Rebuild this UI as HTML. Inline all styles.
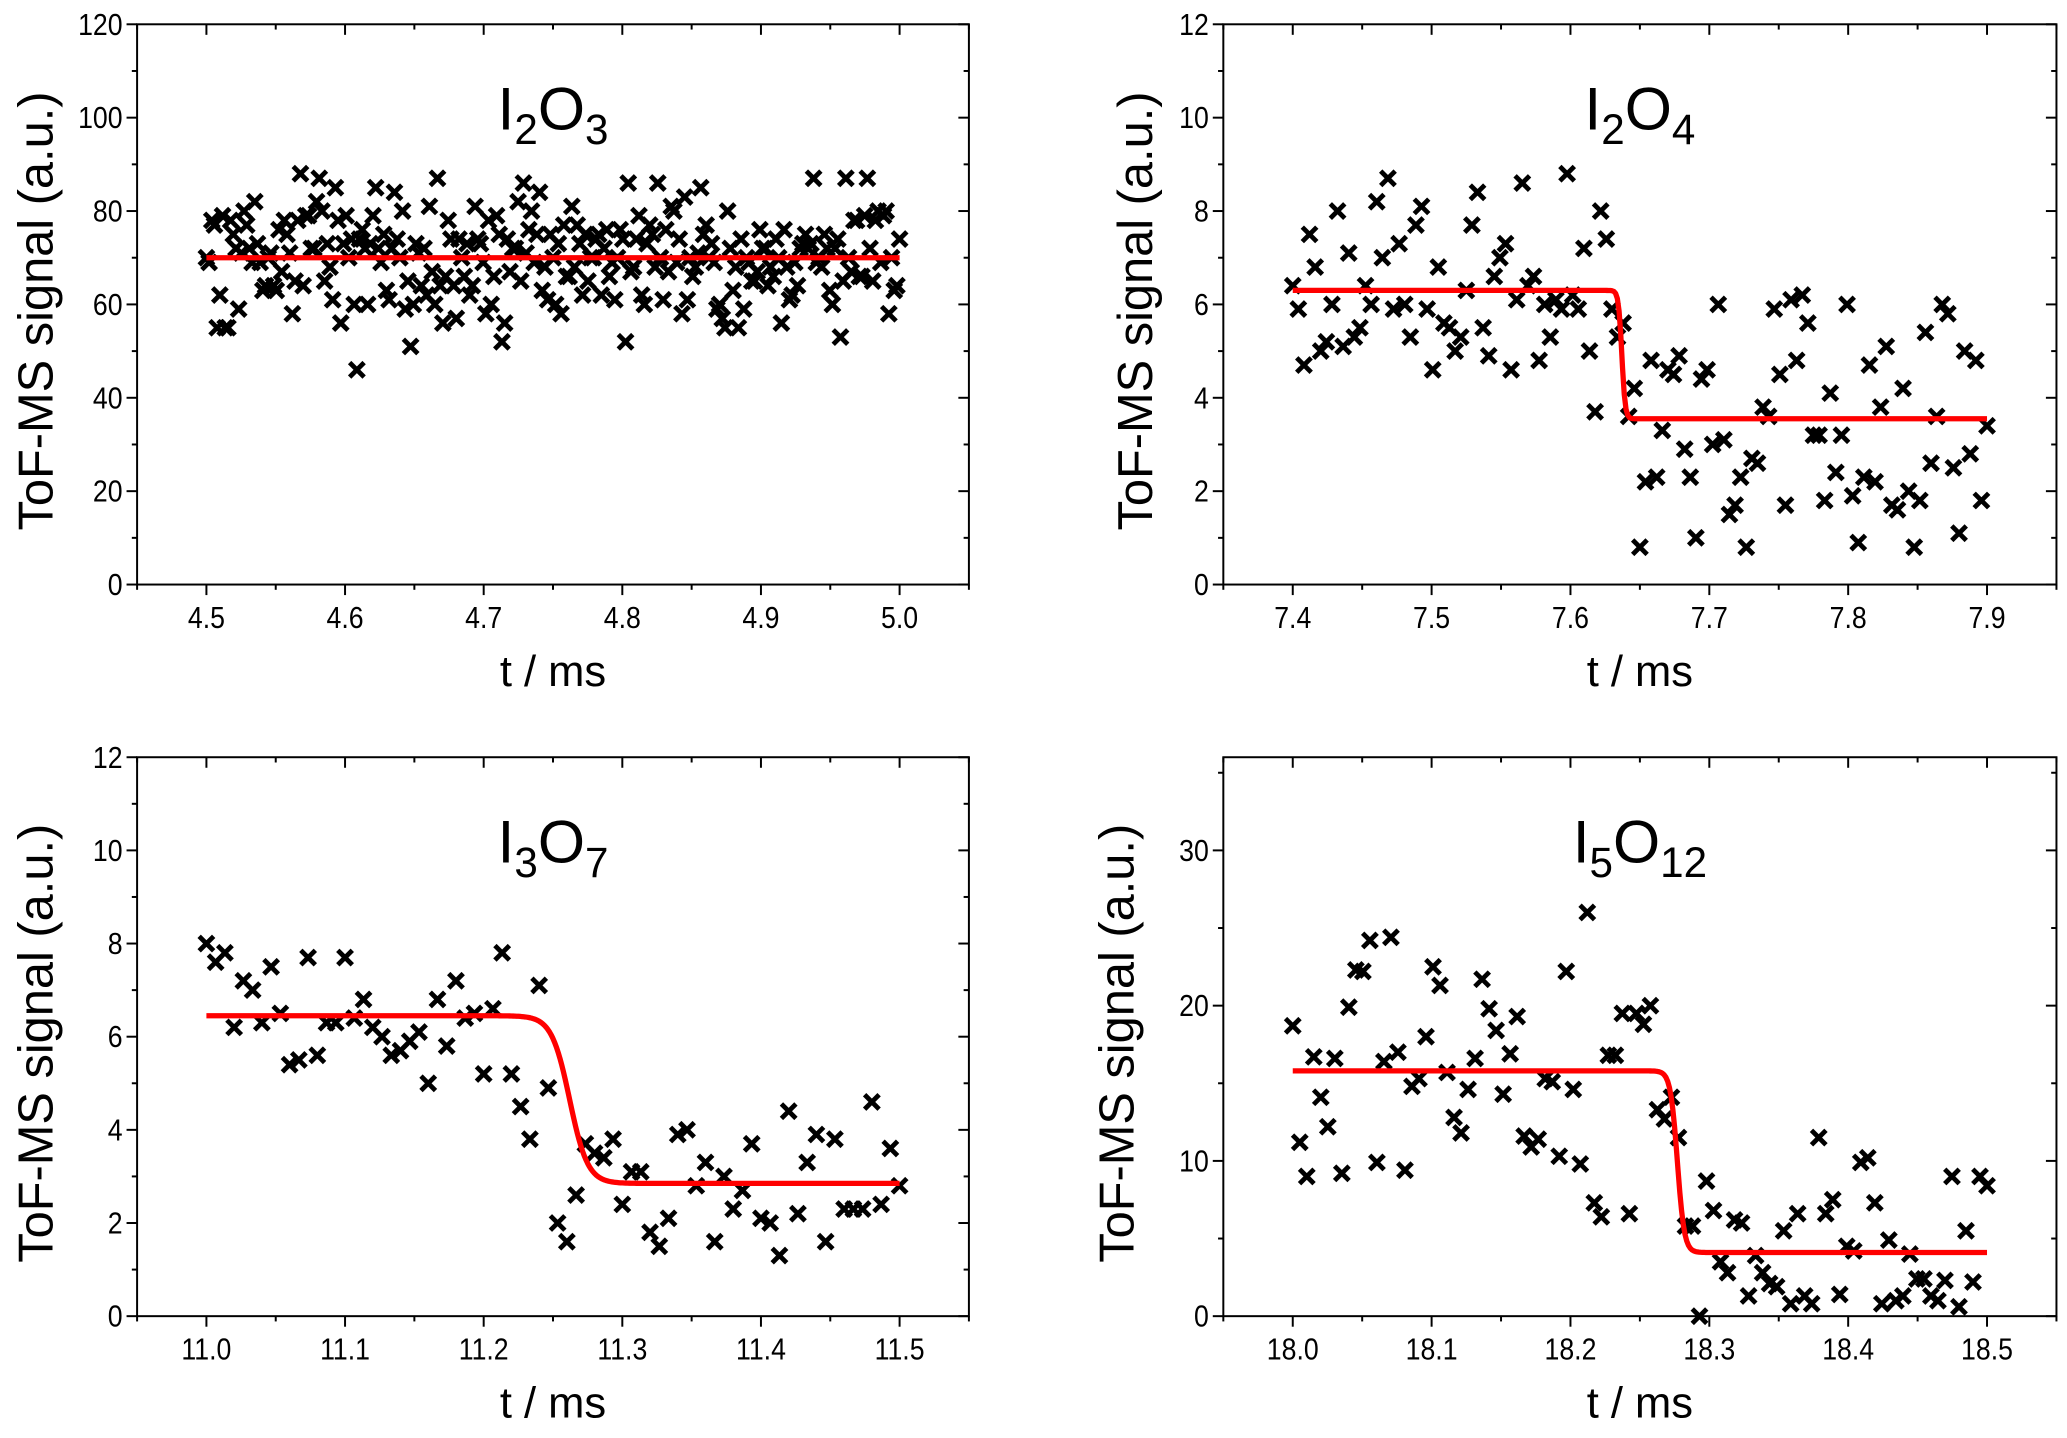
<!DOCTYPE html>
<html><head><meta charset="utf-8"><style>
html,body{margin:0;padding:0;background:#fff}
svg{display:block}
text{font-family:"Liberation Sans",Arial,sans-serif;fill:#000}
</style></head><body>
<svg id="fig" xmlns="http://www.w3.org/2000/svg" width="2067" height="1438" viewBox="0 0 1568 1090"></svg>
<script>
// ---- data ----
const p1Values=[70,78,55,79,55,75,59,80,72,82,69,64,71,63,67,75,58,78,64,79,72,87,65,68,85,56,79,74,46,76,60,79,72,75,61,84,70,59,51,73,64,62,67,87,56,78,64,74,66,62,81,73,58,60,79,52,74,72,82,86,76,69,84,68,75,60,58,66,81,77,62,65,70,75,72,66,61,76,52,67,74,62,73,75,86,61,67,80,74,83,70,68,85,77,73,59,57,80,63,55,59,69,65,76,72,68,74,56,68,62,64,73,72,87,70,75,63,72,53,87,67,78,66,87,65,80,79,58,63,74];
const p1ValuesB=[69,77,62,55,78,72,71,77,69,73,63,70,64,76,78,71,65,88,79,72,82,80,73,61,78,73,70,60,74,72,73,85,69,63,72,74,80,65,60,71,72,81,60,64,66,74,57,70,73,64,74,69,78,66,75,56,67,72,65,71,80,75,63,61,70,73,77,66,68,73,75,70,74,62,76,69,70,74,86,68,79,60,77,68,70,76,81,69,58,61,66,71,75,70,69,60,55,72,68,74,70,65,67,72,64,66,70,76,61,69,72,75,73,69,68,72,60,74,65,70,78,66,79,72,78,69,80,70,64,73];
const p2Values=[6.4,5.9,4.7,7.5,6.8,5.0,5.2,6.0,8.0,5.1,7.1,5.3,5.5,6.4,6.0,8.2,7.0,8.7,5.9,7.3,6.0,5.3,7.7,8.1,5.9,4.6,6.8,5.6,5.5,5.0,5.3,6.3,7.7,8.4,5.5,4.9,6.6,7.0,7.3,4.6,6.1,8.6,6.4,6.6,4.8,6.0,5.3,6.1,5.9,8.8,6.2,5.9,7.2,5.0,3.7,8.0,7.4,5.9,5.3,5.6,3.6,4.2,0.8,2.2,4.8,2.3,3.3,4.6,4.5,4.9,2.9,2.3,1.0,4.4,4.6,3.0,6.0,3.1,1.5,1.7,2.3,0.8,2.7,2.6,3.8,3.6,5.9,4.5,1.7,6.1,4.8,6.2,5.6,3.2,3.2,1.8,4.1,2.4,3.2,6.0,1.9,0.9,2.3,4.7,2.2,3.8,5.1,1.7,1.6,4.2,2.0,0.8,1.8,5.4,2.6,3.6,6.0,5.8,2.5,1.1,5.0,2.8,4.8,1.8,3.4];
const p3Values=[8.0,7.6,7.8,6.2,7.2,7.0,6.3,7.5,6.5,5.4,5.5,7.7,5.6,6.3,6.3,7.7,6.4,6.8,6.2,6.0,5.6,5.7,5.9,6.1,5.0,6.8,5.8,7.2,6.4,6.5,5.2,6.6,7.8,5.2,4.5,3.8,7.1,4.9,2.0,1.6,2.6,3.7,3.5,3.4,3.8,2.4,3.1,3.1,1.8,1.5,2.1,3.9,4.0,2.8,3.3,1.6,3.0,2.3,2.7,3.7,2.1,2.0,1.3,4.4,2.2,3.3,3.9,1.6,3.8,2.3,2.3,2.3,4.6,2.4,3.6,2.8];
const p4Values=[18.7,11.2,9.0,16.7,14.1,12.2,16.6,9.2,19.9,22.3,22.2,24.2,9.9,16.4,24.4,17.0,9.4,14.8,15.3,18.0,22.5,21.3,15.7,12.8,11.8,14.6,16.6,21.7,19.8,18.4,14.3,16.9,19.3,11.6,10.9,11.4,15.3,15.1,10.3,22.2,14.6,9.8,26.0,7.3,6.4,16.8,16.8,19.5,6.6,19.5,18.8,20.0,13.3,12.7,14.1,11.5,5.8,5.8,0.0,8.7,6.8,3.5,2.8,6.2,6.0,1.3,3.9,2.8,2.1,1.9,5.5,0.8,6.6,1.3,0.8,11.5,6.6,7.5,1.4,4.5,4.2,9.9,10.2,7.3,0.8,4.9,1.0,1.3,4.0,2.4,2.4,1.3,1.0,2.3,9.0,0.6,5.5,2.2,9.0,8.4];
const p1XTicks=["4.5","4.6","4.7","4.8","4.9","5.0"];
const p2XTicks=["7.4","7.5","7.6","7.7","7.8","7.9"];
const p3XTicks=["11.0","11.1","11.2","11.3","11.4","11.5"];
const p4XTicks=["18.0","18.1","18.2","18.3","18.4","18.5"];
const p1YTicks=[0,20,40,60,80,100,120];
const p234YTicks=[0,2,4,6,8,10,12];
const p4YTicks=[0,10,20,30];
const fitLevels1=[70,70];
const fitLevels2=[6.3,3.55];
const fitLevels3=[6.45,2.85];
const fitLevels4=[15.8,4.1];
const fitCenters=[4.75,7.637,11.262,18.277];
const fitWidths=[0.01,0.0012,0.0065,0.0025];
const tStarts=[4.5,7.4,11.0,18.0];
const tEnds=[5.0,7.9,11.5,18.5];

const NS="http://www.w3.org/2000/svg";
const svg=document.getElementById('fig');
function mk(tag,attrs,parent){const e=document.createElementNS(NS,tag);for(const k in attrs)e.setAttribute(k,attrs[k]);(parent||svg).appendChild(e);return e;}

function panel(cfg){
  const g=mk('g',{});
  
  
  const L=cfg.L,R=cfg.R,T=cfg.T,B=cfg.B;
  const xs=v=>L+(v-cfg.xmin)/(cfg.xmax-cfg.xmin)*(R-L);
  const ys=v=>B-(v-cfg.ymin)/(cfg.ymax-cfg.ymin)*(B-T);
  let d='';
  const N=400;
  for(let i=0;i<=N;i++){const t=cfg.t0+(cfg.t1-cfg.t0)*i/N;
    const v=cfg.lv[1]+(cfg.lv[0]-cfg.lv[1])/(1+Math.exp((t-cfg.c)/cfg.w));
    d+=(i?'L':'M')+xs(t).toFixed(2)+','+ys(v).toFixed(2);}
  const mg=mk('g',{stroke:'#000','stroke-width':3.6,fill:'none'},g);
  
  
  cfg.series.forEach(([vals,off])=>{
    const n=vals.length;
    const step=(cfg.t1-cfg.t0)/(n-1);
    vals.forEach((v,i)=>{
      const t=cfg.t0+step*(i+off);
      if(t>cfg.t1+1e-9)return;
      const x=xs(t),y=ys(v),s=5.5;
      const p=mk('path',{d:`M${x-s},${y-s}L${x+s},${y+s}M${x-s},${y+s}L${x+s},${y-s}`},mg);
      
      
    });
  });
  const fl=mk('path',{d:d,stroke:'#f00','stroke-width':4,fill:'none','stroke-linejoin':'round'},g);
  
  
  const fr=mk('rect',{x:L,y:T,width:R-L,height:B-T,fill:'none',stroke:'#000','stroke-width':1.5},g);
  
  
  cfg.xt.forEach((lab,i)=>{
    const v=cfg.t0+i*0.1;const x=xs(v);
    mk('line',{x1:x,x2:x,y1:B,y2:B+8,stroke:'#000','stroke-width':1.5},g);
    mk('line',{x1:x,x2:x,y1:T,y2:T+8,stroke:'#000','stroke-width':1.5},g);
    const tx=mk('text',{x:x,y:B+33,'font-size':23,'text-anchor':'middle',transform:`translate(${x} 0) scale(0.88 1) translate(${-x} 0)`},g);tx.textContent=lab;
    
    
  });
  for(let k=-1;k<=10;k++){const v=cfg.t0+k*0.1+0.05;if(v<cfg.xmin||v>cfg.xmax)continue;const x=xs(v);
    mk('line',{x1:x,x2:x,y1:B,y2:B+4,stroke:'#000','stroke-width':1.5},g);
    mk('line',{x1:x,x2:x,y1:T,y2:T+4,stroke:'#000','stroke-width':1.5},g);}
  cfg.yt.forEach(v=>{const y=ys(v);
    mk('line',{x1:L-8,x2:L,y1:y,y2:y,stroke:'#000','stroke-width':1.5},g);
    mk('line',{x1:R-8,x2:R,y1:y,y2:y,stroke:'#000','stroke-width':1.5},g);
    const xx=L-11;
    const tx=mk('text',{x:xx,y:y+8,'font-size':23,'text-anchor':'end',transform:`translate(${xx} 0) scale(0.88 1) translate(${-xx} 0)`},g);tx.textContent=String(v);
    
    
  });
  for(let v=cfg.ymin+cfg.minor;v<cfg.ymax;v+=cfg.minor*2){const y=ys(v);
    mk('line',{x1:L-4,x2:L,y1:y,y2:y,stroke:'#000','stroke-width':1.5},g);
    mk('line',{x1:R-4,x2:R,y1:y,y2:y,stroke:'#000','stroke-width':1.5},g);}
  const xtl=mk('text',{x:(L+R)/2,y:B+77,'font-size':33,'text-anchor':'middle'},g);xtl.textContent='t / ms';
  
  
  const cy=(T+B)/2+5;
  const ytl=mk('text',{x:cfg.yTitleX,y:cy,'font-size':37,'text-anchor':'middle',transform:`rotate(-90 ${cfg.yTitleX} ${cy})`},g);ytl.textContent='ToF-MS signal (a.u.)';
  
  
  const tt=mk('text',{x:(L+R)/2,y:T+80,'font-size':46,'text-anchor':'middle'},g);
  
  
  let prevSub=0;
  cfg.title.forEach(([s,sub])=>{const ts=mk('tspan',sub?{'font-size':32,dy:prevSub?0:11}:{dy:prevSub?-11:0},tt);ts.textContent=s;prevSub=sub;});
}

panel({name:'panel-i2o3',L:104,R:735,T:18,B:443,xmin:4.45,xmax:5.05,ymin:0,ymax:120,t0:tStarts[0],t1:tEnds[0],series:[[p1Values,0],[p1ValuesB,0.5]],xt:p1XTicks,yt:p1YTicks,minor:10,lv:fitLevels1,c:fitCenters[0],w:fitWidths[0],yTitleX:40,title:[['I',0],['2',1],['O',0],['3',1]]});
panel({name:'panel-i2o4',L:928,R:1560,T:18,B:443,xmin:7.35,xmax:7.95,ymin:0,ymax:12,t0:tStarts[1],t1:tEnds[1],series:[[p2Values,0]],xt:p2XTicks,yt:p234YTicks,minor:1,lv:fitLevels2,c:fitCenters[1],w:fitWidths[1],yTitleX:874,title:[['I',0],['2',1],['O',0],['4',1]]});
panel({name:'panel-i3o7',L:104,R:735,T:574,B:998,xmin:10.95,xmax:11.55,ymin:0,ymax:12,t0:tStarts[2],t1:tEnds[2],series:[[p3Values,0]],xt:p3XTicks,yt:p234YTicks,minor:1,lv:fitLevels3,c:fitCenters[2],w:fitWidths[2],yTitleX:40,title:[['I',0],['3',1],['O',0],['7',1]]});
panel({name:'panel-i5o12',L:928,R:1560,T:574,B:998,xmin:17.95,xmax:18.55,ymin:0,ymax:36,t0:tStarts[3],t1:tEnds[3],series:[[p4Values,0]],xt:p4XTicks,yt:p4YTicks,minor:5,lv:fitLevels4,c:fitCenters[3],w:fitWidths[3],yTitleX:860,title:[['I',0],['5',1],['O',0],['12',1]]});
</script>
</body></html>
